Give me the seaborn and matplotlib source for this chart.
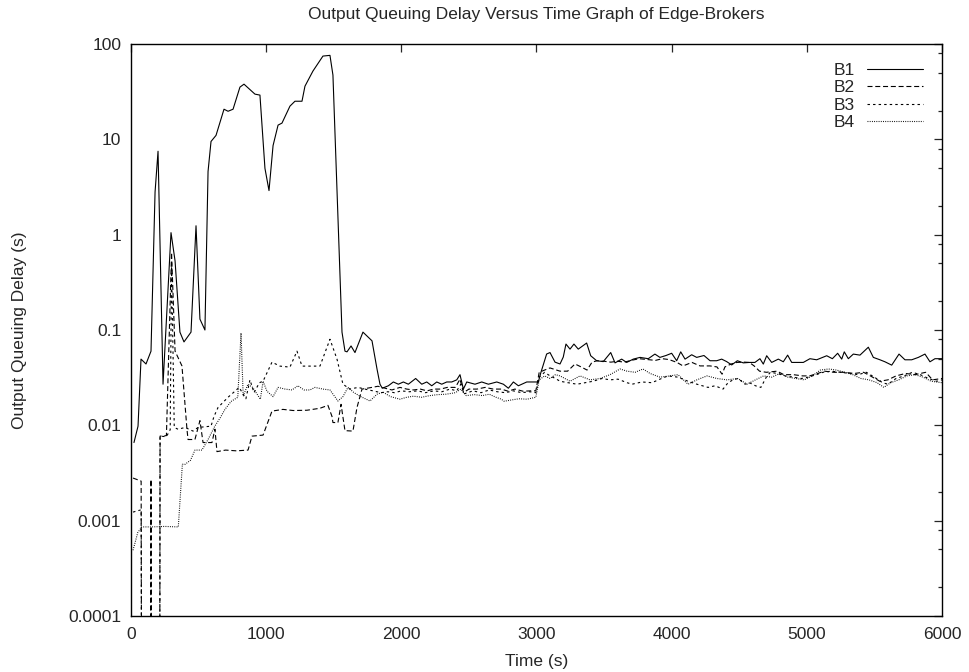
import pandas as pd
import matplotlib
matplotlib.use("Agg")
import matplotlib.pyplot as plt
import seaborn as sns
from matplotlib.ticker import FixedLocator, FixedFormatter, LogLocator, NullFormatter

# (time s, output queuing delay s), per edge broker
series_names = ["B1", "B2", "B3", "B4"]

b1 = [(22, 0.0066), (52, 0.0098), (74, 0.0495), (111, 0.044), (148, 0.060), (178, 2.8),
      (200, 7.5), (237, 0.027), (296, 1.05), (326, 0.53), (362, 0.095), (392, 0.075),
      (444, 0.095), (481, 1.24), (510, 0.13), (547, 0.10), (570, 4.6), (592, 9.5),
      (629, 11), (688, 20.7), (718, 19.7), (755, 20.7), (806, 35.3), (836, 37.9),
      (917, 29.8), (954, 29.1), (991, 4.96), (1021, 2.9), (1051, 8.6), (1088, 14.1),
      (1117, 14.8), (1176, 22.3), (1213, 25.1), (1265, 25.1), (1287, 36.1), (1346, 52),
      (1420, 74.7), (1472, 76), (1494, 47.2), (1561, 0.095), (1583, 0.060), (1598, 0.059),
      (1628, 0.068), (1657, 0.058), (1716, 0.095), (1783, 0.077), (1820, 0.039),
      (1842, 0.027), (1859, 0.0245), (1904, 0.026), (1941, 0.0285), (1978, 0.027),
      (2015, 0.0285), (2052, 0.027), (2106, 0.031), (2151, 0.027), (2188, 0.0285),
      (2225, 0.026), (2262, 0.0285), (2299, 0.027), (2336, 0.0285), (2373, 0.0285),
      (2410, 0.030), (2434, 0.034), (2459, 0.024), (2484, 0.0285), (2545, 0.027),
      (2595, 0.0285), (2644, 0.027), (2706, 0.0285), (2755, 0.027), (2792, 0.0245),
      (2829, 0.0285), (2866, 0.026), (2928, 0.0285), (3013, 0.0285), (3033, 0.036),
      (3075, 0.056), (3100, 0.058), (3137, 0.046), (3174, 0.044), (3198, 0.052),
      (3218, 0.0712), (3248, 0.063), (3277, 0.0712), (3309, 0.063), (3371, 0.073),
      (3401, 0.0537), (3445, 0.0476), (3494, 0.0466), (3549, 0.058), (3581, 0.0452),
      (3630, 0.0495), (3667, 0.0457), (3716, 0.0495), (3766, 0.0516), (3827, 0.050),
      (3876, 0.0559), (3913, 0.0516), (3958, 0.054), (4000, 0.057), (4037, 0.0476),
      (4067, 0.059), (4099, 0.0495), (4148, 0.055), (4185, 0.0516), (4239, 0.054),
      (4284, 0.0476), (4333, 0.0476), (4370, 0.0495), (4407, 0.0466), (4444, 0.043),
      (4486, 0.0476), (4530, 0.0452), (4575, 0.0457), (4616, 0.0457), (4653, 0.050),
      (4678, 0.0439), (4703, 0.0537), (4740, 0.0457), (4789, 0.0495), (4826, 0.0464),
      (4858, 0.0545), (4888, 0.0457), (4930, 0.0457), (4974, 0.0457), (5023, 0.050),
      (5073, 0.0487), (5147, 0.0537), (5189, 0.050), (5228, 0.057), (5258, 0.0495),
      (5277, 0.059), (5307, 0.050), (5344, 0.0559), (5393, 0.0545), (5455, 0.066),
      (5492, 0.0516), (5541, 0.0487), (5578, 0.0464), (5628, 0.0428), (5682, 0.0559),
      (5726, 0.0487), (5776, 0.0487), (5825, 0.0516), (5874, 0.0559), (5911, 0.0464),
      (5948, 0.050), (5998, 0.050)]

# 1e-7 = zero delay, falls below the axis like in the original
b2 = [(15, 0.0028), (75, 0.0026), (81, 1e-7), (144, 1e-7), (148, 0.0027), (152, 1e-7),
      (211, 1e-7), (215, 0.0077), (262, 0.0078), (300, 0.65), (326, 0.060), (377, 0.042),
      (414, 0.0091), (422, 0.0071), (473, 0.0071), (510, 0.0112), (533, 0.0066),
      (599, 0.0066), (621, 0.0091), (636, 0.0053), (700, 0.0055), (780, 0.0054),
      (866, 0.0055), (895, 0.0077), (977, 0.0079), (1043, 0.0141), (1124, 0.0147),
      (1200, 0.0143), (1302, 0.0144), (1398, 0.0151), (1457, 0.0162), (1487, 0.0124),
      (1494, 0.0107), (1531, 0.0107), (1554, 0.0166), (1583, 0.0088), (1642, 0.0087),
      (1672, 0.0154), (1709, 0.024), (1790, 0.0251), (1827, 0.0257), (1880, 0.0245),
      (1930, 0.0235), (1990, 0.025), (2040, 0.024), (2090, 0.0235), (2140, 0.024),
      (2190, 0.023), (2240, 0.024), (2290, 0.024), (2340, 0.025), (2400, 0.025),
      (2434, 0.0305), (2460, 0.022), (2500, 0.024), (2560, 0.024), (2620, 0.025),
      (2680, 0.024), (2740, 0.024), (2790, 0.0228), (2840, 0.024), (2900, 0.0228),
      (2960, 0.023), (2995, 0.023), (3020, 0.036), (3060, 0.038), (3100, 0.040),
      (3174, 0.037), (3230, 0.037), (3285, 0.044), (3330, 0.041), (3374, 0.038),
      (3411, 0.046), (3448, 0.0476), (3500, 0.047), (3550, 0.046), (3600, 0.047),
      (3650, 0.046), (3700, 0.048), (3760, 0.050), (3820, 0.049), (3880, 0.048),
      (3930, 0.050), (3980, 0.049), (4039, 0.0457), (4084, 0.042), (4150, 0.0457),
      (4210, 0.042), (4284, 0.042), (4335, 0.041), (4373, 0.0344), (4394, 0.041),
      (4440, 0.044), (4483, 0.0457), (4540, 0.046), (4575, 0.0457), (4610, 0.042),
      (4650, 0.037), (4700, 0.036), (4780, 0.037), (4830, 0.034), (4900, 0.034),
      (4970, 0.033), (5020, 0.033), (5080, 0.035), (5130, 0.037), (5200, 0.036),
      (5280, 0.036), (5350, 0.035), (5420, 0.036), (5470, 0.033), (5540, 0.029),
      (5600, 0.030), (5660, 0.033), (5730, 0.035), (5800, 0.034), (5880, 0.036),
      (5930, 0.030), (6000, 0.031)]

b3 = [(15, 0.00123), (75, 0.0013), (81, 1e-7), (211, 1e-7), (215, 0.0077), (262, 0.0076),
      (290, 0.009), (300, 0.5), (320, 0.0095), (348, 0.0091), (400, 0.0095), (459, 0.0087),
      (496, 0.0095), (592, 0.0098), (614, 0.0124), (644, 0.0154), (718, 0.0197),
      (769, 0.0228), (800, 0.025), (850, 0.019), (880, 0.030), (910, 0.022), (950, 0.028),
      (977, 0.029), (1043, 0.046), (1102, 0.0418), (1176, 0.0408), (1228, 0.060),
      (1265, 0.0418), (1398, 0.0418), (1472, 0.080), (1524, 0.0495), (1568, 0.027),
      (1620, 0.024), (1680, 0.025), (1730, 0.024), (1790, 0.023), (1850, 0.022),
      (1900, 0.0225), (1950, 0.022), (2000, 0.023), (2060, 0.0225), (2120, 0.023),
      (2180, 0.022), (2240, 0.023), (2300, 0.0225), (2360, 0.024), (2410, 0.023),
      (2440, 0.027), (2470, 0.0215), (2530, 0.023), (2590, 0.022), (2650, 0.0235),
      (2710, 0.0225), (2770, 0.022), (2830, 0.023), (2890, 0.022), (2950, 0.0225),
      (2995, 0.022), (3020, 0.032), (3060, 0.036), (3100, 0.033), (3140, 0.031),
      (3174, 0.029), (3233, 0.028), (3300, 0.027), (3360, 0.028), (3418, 0.029),
      (3485, 0.031), (3544, 0.030), (3603, 0.0305), (3670, 0.028), (3707, 0.027),
      (3780, 0.0285), (3854, 0.028), (3913, 0.0305), (3973, 0.033), (4047, 0.032),
      (4121, 0.029), (4187, 0.027), (4269, 0.025), (4321, 0.026), (4380, 0.024),
      (4417, 0.028), (4454, 0.030), (4491, 0.031), (4543, 0.027), (4575, 0.028),
      (4620, 0.026), (4660, 0.025), (4700, 0.032), (4730, 0.036), (4780, 0.035),
      (4840, 0.033), (4900, 0.032), (4960, 0.031), (5010, 0.032), (5070, 0.034),
      (5120, 0.036), (5180, 0.037), (5250, 0.036), (5320, 0.035), (5380, 0.034),
      (5440, 0.036), (5500, 0.032), (5560, 0.028), (5600, 0.027), (5660, 0.031),
      (5720, 0.033), (5780, 0.036), (5840, 0.034), (5900, 0.031), (5960, 0.029),
      (6000, 0.030)]

b4 = [(15, 0.00049), (50, 0.00075), (80, 0.00086), (150, 0.00086), (250, 0.00087),
      (350, 0.00086), (380, 0.0039), (400, 0.0039), (440, 0.0043), (473, 0.0055),
      (525, 0.0055), (570, 0.0071), (620, 0.0098), (660, 0.012), (695, 0.0147),
      (740, 0.0178), (790, 0.0197), (814, 0.093), (830, 0.0202), (865, 0.027),
      (900, 0.025), (957, 0.0188), (977, 0.029), (1006, 0.0228), (1051, 0.020),
      (1088, 0.025), (1140, 0.024), (1191, 0.0235), (1235, 0.026), (1280, 0.0235),
      (1324, 0.0235), (1361, 0.025), (1420, 0.024), (1472, 0.0235), (1531, 0.018),
      (1568, 0.020), (1605, 0.025), (1650, 0.022), (1700, 0.020), (1768, 0.018),
      (1820, 0.0212), (1864, 0.0223), (1920, 0.020), (1990, 0.0188), (2040, 0.0197),
      (2090, 0.0202), (2150, 0.0197), (2210, 0.0205), (2270, 0.021), (2330, 0.0212),
      (2400, 0.022), (2440, 0.024), (2480, 0.0205), (2540, 0.021), (2600, 0.0205),
      (2650, 0.0212), (2700, 0.0197), (2740, 0.0188), (2760, 0.0179), (2820, 0.0185),
      (2870, 0.019), (2930, 0.0188), (2995, 0.0197), (3020, 0.030), (3060, 0.033),
      (3100, 0.031), (3140, 0.034), (3174, 0.033), (3248, 0.029), (3322, 0.033),
      (3396, 0.030), (3470, 0.031), (3544, 0.034), (3618, 0.039), (3670, 0.037),
      (3729, 0.036), (3788, 0.039), (3840, 0.035), (3913, 0.032), (3987, 0.033),
      (4047, 0.034), (4121, 0.027), (4187, 0.030), (4261, 0.033), (4335, 0.031),
      (4409, 0.030), (4491, 0.031), (4557, 0.027), (4620, 0.030), (4680, 0.033),
      (4740, 0.032), (4800, 0.035), (4860, 0.032), (4920, 0.031), (4980, 0.030),
      (5040, 0.033), (5100, 0.038), (5160, 0.039), (5220, 0.038), (5280, 0.036),
      (5340, 0.034), (5400, 0.031), (5460, 0.030), (5520, 0.028), (5570, 0.025),
      (5620, 0.028), (5680, 0.030), (5740, 0.033), (5800, 0.034), (5860, 0.032),
      (5920, 0.029), (6000, 0.028)]

y_ticks = [0.0001, 0.001, 0.01, 0.1, 1, 10, 100]
y_tick_labels = ["0.0001", "0.001", "0.01", "0.1", "1", "10", "100"]
x_ticks = [0, 1000, 2000, 3000, 4000, 5000, 6000]
x_tick_labels = ["0", "1000", "2000", "3000", "4000", "5000", "6000"]

sns.set_style("white")
plt.rcParams["font.family"] = ["Liberation Sans", "DejaVu Sans"]
fs = 12.5

frames = []
for name, pts in zip(series_names, [b1, b2, b3, b4]):
    d = pd.DataFrame(pts, columns=["time", "delay"])
    d["broker"] = name
    frames.append(d)
df = pd.concat(frames, ignore_index=True)

# gnuplot-like line types
dash_styles = {"B1": "-", "B2": (0, (4.5, 2.5)), "B3": (0, (2.2, 2.8)), "B4": (0, (0.8, 1.2))}

fig = plt.figure(figsize=(9.7, 6.72), dpi=100)
ax = fig.add_axes([131 / 970, 56 / 672, 811 / 970, 572 / 672])

for name in series_names:
    sns.lineplot(data=df[df["broker"] == name], x="time", y="delay", ax=ax,
                 color="black", linewidth=0.8, linestyle=dash_styles[name],
                 label=name, sort=False, estimator=None)

ax.set_yscale("log")
ax.set_xlim(0, 6000)
ax.set_ylim(1e-4, 100)

ax.yaxis.set_major_locator(FixedLocator(y_ticks))
ax.yaxis.set_major_formatter(FixedFormatter(y_tick_labels))
ax.yaxis.set_minor_locator(LogLocator(base=10, subs=[2, 5, 8]))
ax.yaxis.set_minor_formatter(NullFormatter())
ax.xaxis.set_major_locator(FixedLocator(x_ticks))
ax.xaxis.set_major_formatter(FixedFormatter(x_tick_labels))

ax.tick_params(which="both", direction="in", top=True, right=True, width=0.9, labelsize=fs)
ax.tick_params(which="major", length=6)
ax.tick_params(which="minor", length=3)
ax.tick_params(axis="y", pad=7)
ax.tick_params(axis="x", pad=8)
for s in ax.spines.values():
    s.set_linewidth(1.0)
    s.set_color("black")

ax.set_title("Output Queuing Delay Versus Time Graph of Edge-Brokers", fontsize=fs, pad=18)
ax.set_xlabel("Time (s)", fontsize=fs)
ax.set_ylabel("Output Queuing Delay (s)", fontsize=fs)
ax.xaxis.set_label_coords(0.5, -0.066)
ax.yaxis.set_label_coords(-0.128, 0.5)

ax.legend(loc="upper right", frameon=False, markerfirst=False, fontsize=fs,
          handlelength=3.2, handletextpad=0.7, labelspacing=0.12,
          borderaxespad=0.8, borderpad=0.3)

fig.savefig("out.png", dpi=100)
